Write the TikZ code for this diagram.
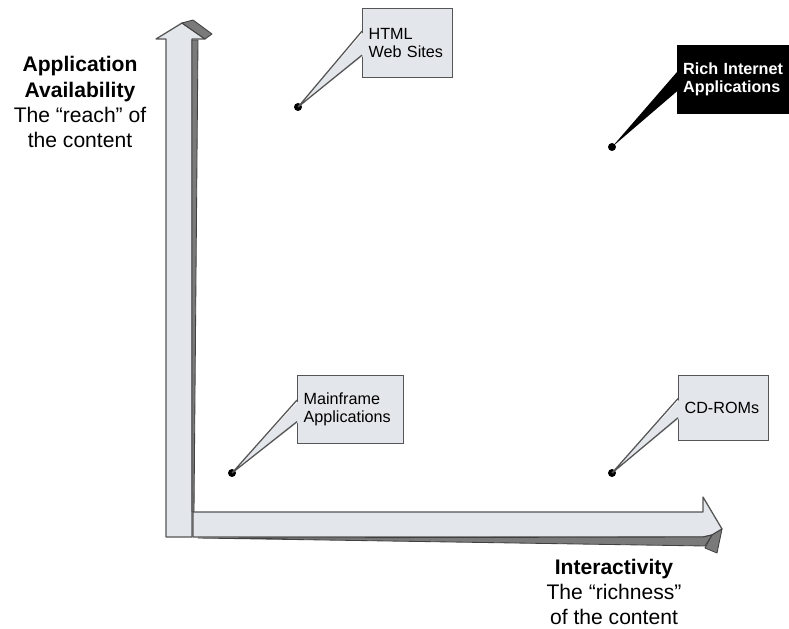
\documentclass[tikz,border=0pt]{standalone}
\usepackage{fontspec}
\setmainfont{Liberation Sans}
\usetikzlibrary{positioning}
\definecolor{facegray}{HTML}{E3E6EA}
\definecolor{sidegray}{HTML}{7A7A7A}
\definecolor{edgegray}{HTML}{555555}

\begin{document}
\begin{tikzpicture}
[
	x = 0.025cm, y = -0.025cm,
	face/.style	= {fill = facegray, draw = edgegray, line width = 0.9pt, line join = round},
	side/.style	= {fill = sidegray, draw = black!75, line width = 0.6pt, line join = round},
	callout/.style	= {draw = edgegray, fill = facegray, line width = 0.9pt, anchor = north west, align = left, inner xsep = 0.15cm, inner ysep = 0cm, font = \fontsize{11.5}{13}\selectfont},
	dark/.style	= {callout, draw = black, fill = black, text = white, inner xsep = 0.14cm, font = \fontsize{11.5}{13}\selectfont\bfseries},
	wedge/.style	= {draw = edgegray, line width = 0.9pt},
	dot/.style	= {circle, fill = black, minimum size = 0.2cm, inner sep = 0cm},
	axis/.style	= {align = center, font = \fontsize{15}{17.8}\selectfont},
]
	\useasboundingbox (0,0) rectangle (789,629);

	% vertical arrow
	\draw [face] (166,537) -- (166,39) -- (156,39) -- (182,23) -- (205,39) -- (192,39) -- (192,537) -- cycle;
	\draw [side] (182,23) -- (193,20) -- (212,34) -- (205,39) -- cycle;
	\draw [side] (192,40) -- (198,40) -- (194,512) -- (192,512) -- cycle;
	%
	% horizontal arrow
	\draw [face] (193,512) -- (703,512) -- (703,497) -- (722,529) -- (712,535) -- (703,537) -- (193,537) -- cycle;
	\draw [side] (722,529) -- (717,553) -- (705,548) -- (712,535) -- cycle;
	\draw [side] (198,538) -- (703,537) -- (712,535) -- (705,546) -- cycle;

	\node (html) [callout, text width = 1.95cm, minimum height = 1.725cm] at (362,8) {HTML\\Web Sites};
	\node (ria) [dark, text width = 2.55cm, minimum height = 1.7cm] at (677,45) {Rich Internet\\Applications};
	\node (mainframe) [callout, text width = 2.35cm, minimum height = 1.7cm] at (297,375) {Mainframe\\Applications};
	\node (cdrom) [callout, text width = 1.95cm, minimum height = 1.625cm] at (678,375) {CD-ROMs};
	%
	\node (htmldot) [dot] at (298,107) {};
	\node (riadot) [dot] at (612,147) {};
	\node (mainframedot) [dot] at (232,473) {};
	\node (cdromdot) [dot] at (612,473) {};

	\fill [facegray] (htmldot.center) -- ([shift = {(0.06cm,0.3cm)}]html.west) -- ([shift = {(0.06cm,-0.3cm)}]html.west) -- cycle;
	\draw [wedge] ([yshift = 0.3cm]html.west) -- (htmldot.center) -- ([yshift = -0.3cm]html.west);
	%
	\fill [black] (riadot.center) -- ([shift = {(0.06cm,0.26cm)}]ria.west) -- ([shift = {(0.06cm,-0.24cm)}]ria.west) -- cycle;
	%
	\fill [facegray] (mainframedot.center) -- ([shift = {(0.06cm,0.24cm)}]mainframe.west) -- ([shift = {(0.06cm,-0.3cm)}]mainframe.west) -- cycle;
	\draw [wedge] ([yshift = 0.24cm]mainframe.west) -- (mainframedot.center) -- ([yshift = -0.3cm]mainframe.west);
	%
	\fill [facegray] (cdromdot.center) -- ([shift = {(0.06cm,0.24cm)}]cdrom.west) -- ([shift = {(0.06cm,-0.24cm)}]cdrom.west) -- cycle;
	\draw [wedge] ([yshift = 0.24cm]cdrom.west) -- (cdromdot.center) -- ([yshift = -0.24cm]cdrom.west);

	\node (reach) [axis] at (80,102) {\textbf{Application}\\\textbf{Availability}\\The “reach” of\\the content};
	\node (richness) [axis] at (614,592) {\textbf{Interactivity}\\The “richness”\\of the content};

\end{tikzpicture}
\end{document}
